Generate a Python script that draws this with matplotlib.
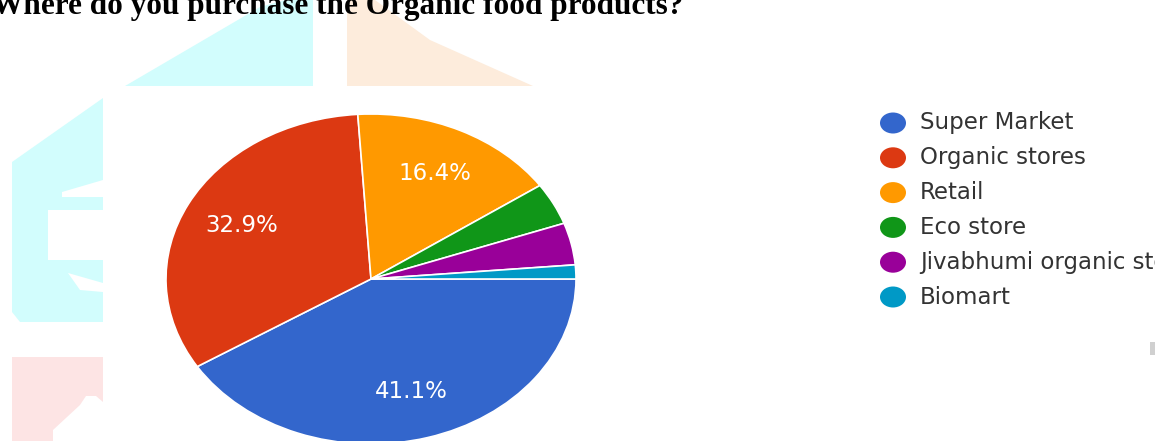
import matplotlib; matplotlib.use("Agg")
import matplotlib.pyplot as plt
from matplotlib.patches import Ellipse, Polygon, Rectangle

# survey counts (n = 73) -> 41.1 / 32.9 / 16.4 / 4.1 / 4.1 / 1.4 %
places = ["Super Market", "Organic stores", "Retail", "Eco store",
          "Jivabhumi organic store", "Biomart"]
counts = [30, 24, 12, 3, 3, 1]
colors = ["#3366cc", "#dc3912", "#ff9900", "#109618", "#990099", "#0099c6"]
title = "Where do you purchase the Organic food products?"

W, H = 1155, 441
fig = plt.figure(figsize=(W / 100, H / 100), dpi=100)

# background layer in pixel coords (y down): faint watermark shapes
bg = fig.add_axes([0, 0, 1, 1])
bg.set_xlim(0, W); bg.set_ylim(H, 0); bg.axis("off")
cyan, peach, pink = "#d2fdfd", "#fdecdc", "#fde4e4"
bg.add_patch(Polygon([(125, 86), (260, 7), (285, 0), (313, 0), (313, 86)], color=cyan, lw=0))
bg.add_patch(Polygon([(347, 0), (375, 0), (430, 40), (533, 86), (347, 86)], color=peach, lw=0))
bg.add_patch(Polygon([(12, 162), (103, 98), (103, 322), (20, 322), (12, 312)], color=cyan, lw=0))
bg.add_patch(Polygon([(62, 192), (103, 180), (103, 197), (62, 197)], color="white", lw=0))
bg.add_patch(Rectangle((48, 210), 55, 50, color="white", lw=0))
bg.add_patch(Polygon([(68, 273), (103, 283), (103, 292), (80, 290)], color="white", lw=0))
bg.add_patch(Rectangle((12, 357), 91, 84, color=pink, lw=0))
bg.add_patch(Polygon([(53, 441), (53, 430), (80, 405), (86, 396), (96, 396), (103, 402), (103, 441)],
                     color="white", lw=0))
bg.add_patch(Rectangle((1150, 342), 5, 13, color="#d0d0d0", lw=0))

fig.text(-8 / W, 1 - 14 / H, title, family="Liberation Serif", weight="bold",
         fontsize=22.5, va="baseline", ha="left", color="black")

# pie (stretched into an ellipse like the source image)
cx, cy, rx, ry = 371, 279, 205, 165
ax = fig.add_axes([(cx - rx) / W, (H - cy - ry) / H, 2 * rx / W, 2 * ry / H])
wedges, _, autotexts = ax.pie(
    counts, colors=colors, startangle=0, counterclock=False,
    autopct=lambda p: f"{p:.1f}%" if p > 10 else "", pctdistance=0.71,
    wedgeprops=dict(edgecolor="white", linewidth=1.2),
    textprops=dict(color="white", fontsize=16.5))
ax.set_aspect("auto")
ax.set_xlim(-1, 1); ax.set_ylim(-1, 1)
for t in autotexts:
    t.set_va("center")

# legend: stretched dots + labels
for i, (name, col) in enumerate(zip(places, colors)):
    y = 123 + i * 34.8
    bg.add_patch(Ellipse((893, y), 26, 21, color=col, lw=0))
    bg.text(920, y, name, va="center", ha="left", fontsize=16.5, color="#333333")

fig.savefig("out.png", dpi=100)
